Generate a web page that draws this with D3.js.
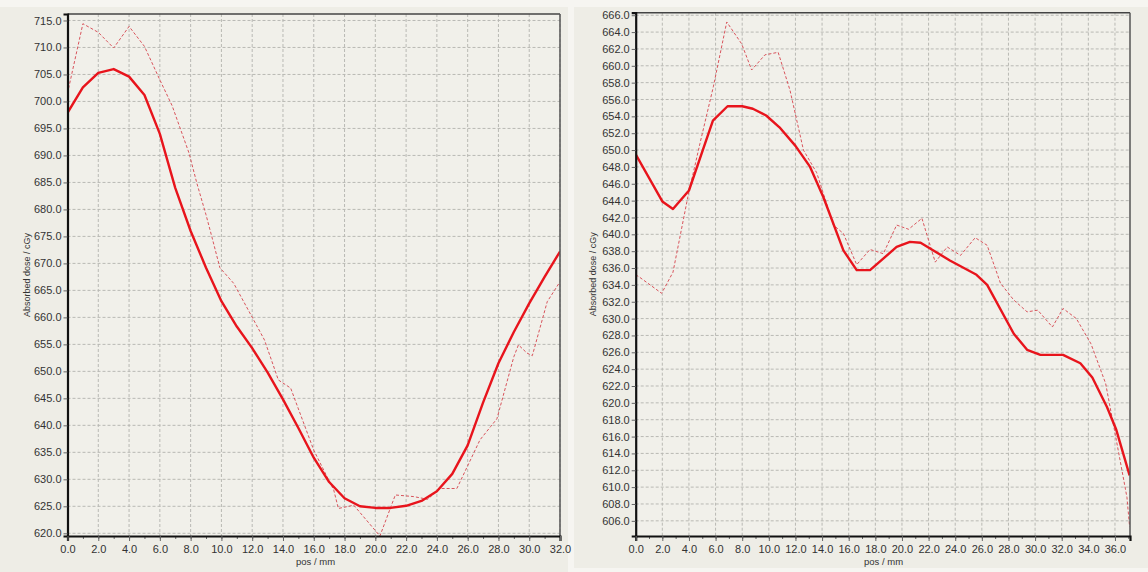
<!DOCTYPE html>
<html>
<head>
<meta charset="utf-8">
<script src="https://cdn.jsdelivr.net/npm/d3@7"></script>
<style>
  body { margin: 0; background: #f6f5f1; }
  svg { display: block; font-family: "Liberation Sans", Arial, sans-serif; }
</style>
</head>
<body>
<svg id="chart" width="1148" height="572"></svg>
<script>
// left profile (calculated = solid, measured = dashed)
var leftPosSolid = [0,1,2,3,4,5,6,7,8,9,10,11,12,13,14,15,16,17,18,19,20,21,22,23,24,25,26,27,28,29,30,31,32]
var leftDoseSolid = [697.9,702.6,705.3,706.0,704.6,701.2,694.0,684.0,676.0,669.2,663.0,658.3,654.3,649.8,644.8,639.5,634.0,629.5,626.5,625.0,624.7,624.7,625.1,626.0,627.8,631.0,636.3,644.2,651.5,657.3,662.6,667.5,672.2]
var leftPosDash = [0,1,2,3,4,5,6,6.8,7.9,8.4,9,9.4,9.9,10.8,12.1,12.8,13.7,14.5,16,17.3,17.6,18.6,20.3,21.3,22.5,23.4,24.2,25.3,26.8,27.5,27.9,29,29.3,29.85,30.2,30.84,31.17,32]
var leftDoseDash = [701.5,714.4,712.8,709.9,713.9,710.2,704.0,699.2,690.4,684.9,679.0,674.7,669.2,666.3,659.5,655.8,648.4,646.9,635.4,628.0,624.6,625.2,619.5,627.1,626.8,626.3,628.3,628.3,637.3,639.8,641.2,652.7,654.9,653.4,652.9,659.5,662.9,666.6]

// right profile
var rightPosSolid = [0,2,2.8,4,5.8,6.9,8,8.8,9.8,10.8,12,13.1,14.1,15.6,16.6,17.6,19.6,20.6,21.4,23.6,25.6,26.4,28.4,29.4,30.4,32.1,33.4,34.3,35.4,36.1,37.1]
var rightDoseSolid = [649.5,643.9,643.0,645.2,653.5,655.2,655.2,654.9,654.1,652.7,650.5,648.0,644.4,638.1,635.75,635.75,638.5,639.1,639.0,636.9,635.2,634.0,628.2,626.3,625.7,625.7,624.7,623.0,619.5,616.8,611.4]
var rightPosDash = [0,0.3,1.95,2.8,3.95,4.83,5.83,6.84,7.96,8.71,9.71,10.7,11.59,12.6,13.6,14.85,15.6,16.6,17.6,18.6,19.6,20.5,21.5,22.5,23.4,24.4,25.5,26.4,27.4,28.4,29.4,30.2,31.3,32.1,33.1,34.2,35.3,36.1,36.9,37.1]
var rightDoseDash = [635.2,634.9,633.0,635.5,644.7,650.8,657.5,665.2,662.6,659.5,661.3,661.6,657.1,650.0,647.3,641.1,640.1,636.4,638.2,637.7,641.1,640.6,641.9,636.7,638.5,637.5,639.6,638.7,634.2,632.2,630.8,631.0,629.0,631.2,630.0,627.0,622.3,615.6,608.8,605.3]

var leftYTicks = d3.range(620, 716, 5)
var leftXTicks = d3.range(0, 33, 2)
var rightYTicks = d3.range(606, 667, 2)
var rightXTicks = d3.range(0, 37, 2)

var svg = d3.select('#chart')

// panels
svg.append('rect').attr('x', 0).attr('y', 7).attr('width', 568).attr('height', 565).attr('fill', '#eeede6')
svg.append('rect').attr('x', 574).attr('y', 7).attr('width', 574).attr('height', 561).attr('fill', '#eeede6')

function drawChart(opt) {
  var x = d3.scaleLinear().domain(opt.xDomain).range([opt.left, opt.right])
  var y = d3.scaleLinear().domain(opt.yDomain).range([opt.bottom, opt.top])
  var g = svg.append('g')

  g.append('rect')
    .attr('x', opt.left).attr('y', opt.top)
    .attr('width', opt.right - opt.left).attr('height', opt.bottom - opt.top)
    .attr('fill', '#f1f0ea')

  // grid
  g.selectAll('.vg').data(opt.xTicks.filter(function(d) { return d > 0 }))
    .enter().append('line')
    .attr('x1', function(d) { return x(d) }).attr('x2', function(d) { return x(d) })
    .attr('y1', opt.top).attr('y2', opt.bottom)
    .attr('stroke', '#b9b9b4').attr('stroke-width', 1).attr('stroke-dasharray', '3,2')
  g.selectAll('.hg').data(opt.yTicks)
    .enter().append('line')
    .attr('x1', opt.left).attr('x2', opt.right)
    .attr('y1', function(d) { return y(d) }).attr('y2', function(d) { return y(d) })
    .attr('stroke', '#b9b9b4').attr('stroke-width', 1).attr('stroke-dasharray', '3,2')

  var clipId = 'clip' + opt.id
  svg.append('clipPath').attr('id', clipId).append('rect')
    .attr('x', opt.left).attr('y', opt.top)
    .attr('width', opt.right - opt.left).attr('height', opt.bottom - opt.top)

  var line = d3.line().x(function(d) { return x(d[0]) }).y(function(d) { return y(d[1]) })

  g.append('path')
    .datum(d3.zip(opt.posDash, opt.doseDash))
    .attr('clip-path', 'url(#' + clipId + ')')
    .attr('d', line)
    .attr('fill', 'none').attr('stroke', '#d8545c').attr('stroke-width', 1).attr('stroke-dasharray', '3,2')

  g.append('path')
    .datum(d3.zip(opt.posSolid, opt.doseSolid))
    .attr('clip-path', 'url(#' + clipId + ')')
    .attr('d', line)
    .attr('fill', 'none').attr('stroke', '#e8141c').attr('stroke-width', 2.4).attr('stroke-linejoin', 'round')

  // frame: top and right thin
  g.append('line').attr('x1', opt.left).attr('x2', opt.right).attr('y1', opt.top).attr('y2', opt.top)
    .attr('stroke', '#444').attr('stroke-width', 1.5)
  g.append('line').attr('x1', opt.right).attr('x2', opt.right).attr('y1', opt.top).attr('y2', opt.bottom)
    .attr('stroke', '#555').attr('stroke-width', 1.5)

  // axes
  var yAxis = d3.axisLeft(y).tickValues(opt.yTicks).tickFormat(d3.format('.1f')).tickSize(4).tickPadding(2)
  var ya = g.append('g').attr('transform', 'translate(' + opt.left + ',0)').call(yAxis)
  ya.select('.domain').attr('stroke', '#111').attr('stroke-width', 2.2)
  ya.selectAll('.tick line').attr('stroke', '#666')
  ya.selectAll('text').attr('font-size', 11).attr('fill', '#333').attr('font-family', '"Liberation Sans", Arial, sans-serif')

  var xa = g.append('g').attr('transform', 'translate(0,' + opt.bottom + ')')
    .call(d3.axisBottom(x).tickValues(d3.range(opt.xDomain[0], Math.floor(opt.xDomain[1]) + 1, 1)).tickSize(3).tickFormat(''))
  xa.select('.domain').remove()
  xa.selectAll('.tick line').attr('stroke', '#666')

  var xb = g.append('g').attr('transform', 'translate(0,' + opt.bottom + ')')
    .call(d3.axisBottom(x).tickValues(opt.xTicks).tickFormat(d3.format('.1f')).tickSize(5).tickPadding(4))
  xb.select('.domain').attr('stroke', '#111').attr('stroke-width', 2.2)
  xb.selectAll('.tick line').attr('stroke', '#666')
  xb.selectAll('text').attr('font-size', 11).attr('fill', '#333').attr('font-family', '"Liberation Sans", Arial, sans-serif')

  // axis titles
  g.append('text')
    .attr('transform', 'translate(' + opt.yTitleX + ',' + ((opt.top + opt.bottom) / 2) + ') rotate(-90)')
    .attr('text-anchor', 'middle').attr('font-size', 9).attr('fill', '#333')
    .text('Absorbed dose / cGy')
  g.append('text')
    .attr('x', opt.xTitleX).attr('y', 565)
    .attr('font-size', 9.5).attr('fill', '#333')
    .text('pos / mm')
}

drawChart({
  id: 'L', left: 67.5, right: 560, top: 14, bottom: 536,
  xDomain: [0, 32], yDomain: [619.5, 716.2],
  xTicks: leftXTicks, yTicks: leftYTicks,
  posSolid: leftPosSolid, doseSolid: leftDoseSolid,
  posDash: leftPosDash, doseDash: leftDoseDash,
  yTitleX: 30, xTitleX: 296
})

drawChart({
  id: 'R', left: 635.7, right: 1130, top: 12.7, bottom: 536,
  xDomain: [0, 37.13], yDomain: [604.2, 666.3],
  xTicks: rightXTicks, yTicks: rightYTicks,
  posSolid: rightPosSolid, doseSolid: rightDoseSolid,
  posDash: rightPosDash, doseDash: rightDoseDash,
  yTitleX: 596, xTitleX: 864
})
</script>
</body>
</html>
